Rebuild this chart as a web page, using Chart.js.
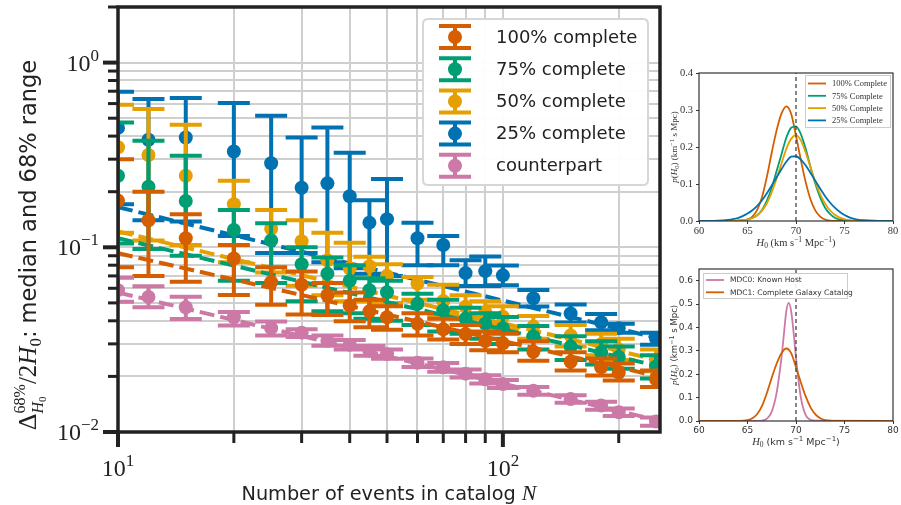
<!DOCTYPE html>
<html>
<head>
<meta charset="utf-8">
<script src="https://cdn.jsdelivr.net/npm/chart.js@4.4.1/dist/chart.umd.min.js"></script>
<style>
  body { margin: 0; background: #fff; }
  #wrap { position: relative; width: 901px; height: 505px; overflow: hidden; }
  canvas { position: absolute; }
  #main { left: 0; top: 0; }
  #inset1 { left: 660px; top: 55px; }
  #inset2 { left: 660px; top: 250px; }
</style>
</head>
<body>
<div id="wrap">
  <canvas id="main" width="670" height="505"></canvas>
  <canvas id="inset1" width="241" height="200"></canvas>
  <canvas id="inset2" width="241" height="205"></canvas>
</div>
<script>
// ---- main panel data: median and 68% range vs number of events ----
const nEvents = [10, 12, 15, 20, 25, 30, 35, 40, 45, 50, 60, 70, 80, 90, 100, 120, 150, 180, 200, 250];

const med100 = [0.179, 0.140, 0.112, 0.087, 0.0648, 0.0627, 0.0552, 0.0484, 0.045, 0.0418, 0.0385, 0.036, 0.0339, 0.0311, 0.0302, 0.0272, 0.0240, 0.0224, 0.0210, 0.0193];
const hi100 = [0.300, 0.200, 0.151, 0.103, 0.078, 0.074, 0.064, 0.057, 0.052, 0.048, 0.044, 0.041, 0.038, 0.035, 0.034, 0.031, 0.027, 0.025, 0.0235, 0.0215];
const lo100 = [0.078, 0.070, 0.065, 0.0552, 0.0488, 0.0433, 0.043, 0.0398, 0.0369, 0.0358, 0.0333, 0.0317, 0.030, 0.0277, 0.027, 0.0243, 0.0215, 0.0202, 0.019, 0.0175];

const med75 = [0.244, 0.213, 0.178, 0.124, 0.109, 0.081, 0.072, 0.066, 0.0586, 0.0571, 0.0494, 0.0455, 0.0411, 0.0386, 0.0365, 0.0329, 0.0290, 0.0270, 0.0255, 0.0226];
const hi75 = [0.474, 0.377, 0.313, 0.159, 0.135, 0.100, 0.088, 0.080, 0.068, 0.066, 0.056, 0.052, 0.047, 0.044, 0.042, 0.0375, 0.033, 0.031, 0.029, 0.026];
const lo75 = [0.105, 0.098, 0.090, 0.066, 0.064, 0.051, 0.045, 0.044, 0.041, 0.040, 0.038, 0.035, 0.034, 0.032, 0.030, 0.028, 0.0245, 0.0232, 0.022, 0.0195];

const med50 = [0.348, 0.316, 0.244, 0.171, 0.126, 0.108, 0.085, 0.077, 0.079, 0.070, 0.0636, 0.0512, 0.0477, 0.0446, 0.0421, 0.0372, 0.0333, 0.0299, 0.0280, 0.0244];
const hi50 = [0.591, 0.560, 0.461, 0.229, 0.159, 0.140, 0.120, 0.106, 0.089, 0.081, 0.069, 0.0627, 0.055, 0.051, 0.048, 0.0425, 0.038, 0.034, 0.032, 0.028];
const lo50 = [0.120, 0.109, 0.103, 0.083, 0.073, 0.062, 0.055, 0.051, 0.051, 0.050, 0.052, 0.043, 0.041, 0.038, 0.036, 0.032, 0.029, 0.026, 0.0245, 0.0213];

const med25 = [0.443, 0.382, 0.393, 0.330, 0.285, 0.210, 0.222, 0.189, 0.136, 0.142, 0.112, 0.103, 0.0725, 0.0743, 0.0705, 0.053, 0.0438, 0.0393, 0.0365, 0.032];
const hi25 = [0.695, 0.635, 0.643, 0.604, 0.515, 0.393, 0.445, 0.325, 0.180, 0.234, 0.136, 0.115, 0.085, 0.0893, 0.0798, 0.0588, 0.049, 0.0435, 0.0386, 0.0345];
const lo25 = [0.171, 0.140, 0.138, 0.115, 0.093, 0.093, 0.083, 0.077, 0.072, 0.070, 0.080, 0.080, 0.0618, 0.0618, 0.0623, 0.0478, 0.0392, 0.0355, 0.0345, 0.0297];

const medCp = [0.0586, 0.0539, 0.0474, 0.0418, 0.0365, 0.0345, 0.0312, 0.0297, 0.0275, 0.0264, 0.0237, 0.0224, 0.0207, 0.0193, 0.0182, 0.0167, 0.0151, 0.0139, 0.0128, 0.0114];
const hiCp = [0.0684, 0.0615, 0.054, 0.0447, 0.0397, 0.0360, 0.0333, 0.0315, 0.0292, 0.0280, 0.0250, 0.0236, 0.0218, 0.0203, 0.0191, 0.0175, 0.0158, 0.0146, 0.0134, 0.0120];
const loCp = [0.0508, 0.0474, 0.0409, 0.0377, 0.0333, 0.0327, 0.0293, 0.0280, 0.0259, 0.0249, 0.0225, 0.0212, 0.0197, 0.0183, 0.0173, 0.0159, 0.0144, 0.0132, 0.0122, 0.0108];

// dashed power-law fits, read at the two ends of the axis
const fitN = [10, 256];
const fit100 = [0.093, 0.0199];
const fit75 = [0.112, 0.0226];
const fit50 = [0.122, 0.0243];
const fit25 = [0.165, 0.032];
const fitCp = [0.0569, 0.0115];

const xTicks = [10, 20, 30, 40, 50, 60, 70, 80, 90, 100, 200];
const yTicks = [0.01, 0.02, 0.03, 0.04, 0.05, 0.06, 0.07, 0.08, 0.09, 0.1, 0.2, 0.3, 0.4, 0.5, 0.6, 0.7, 0.8, 0.9, 1, 2];

// ---- inset data: H0 posteriors ----
const h0Grid = [60, 62, 63, 63.5, 64, 64.5, 65, 65.5, 66, 66.5, 67, 67.5, 68, 68.5, 69, 69.5, 70, 70.5, 71, 71.5, 72, 72.5, 73, 73.5, 74, 74.5, 75, 75.5, 76, 76.5, 77, 78, 80];
const post100 = [0, 0, 0, 0, 0, 0.001, 0.004, 0.012, 0.03, 0.065, 0.12, 0.185, 0.245, 0.29, 0.31, 0.29, 0.23, 0.165, 0.105, 0.058, 0.028, 0.012, 0.004, 0.001, 0, 0, 0, 0, 0, 0, 0, 0, 0];
const post75 = [0, 0, 0, 0, 0.001, 0.002, 0.004, 0.008, 0.016, 0.03, 0.055, 0.09, 0.135, 0.18, 0.225, 0.252, 0.256, 0.235, 0.195, 0.145, 0.1, 0.063, 0.036, 0.019, 0.009, 0.004, 0.002, 0.001, 0, 0, 0, 0, 0];
const post50 = [0, 0, 0, 0, 0.001, 0.002, 0.004, 0.008, 0.015, 0.028, 0.048, 0.078, 0.115, 0.155, 0.195, 0.222, 0.232, 0.218, 0.185, 0.145, 0.105, 0.072, 0.047, 0.029, 0.017, 0.009, 0.005, 0.002, 0.001, 0, 0, 0, 0];
const post25 = [0, 0.001, 0.003, 0.005, 0.008, 0.013, 0.02, 0.029, 0.041, 0.056, 0.075, 0.096, 0.118, 0.14, 0.16, 0.174, 0.175, 0.166, 0.15, 0.13, 0.108, 0.087, 0.067, 0.05, 0.036, 0.025, 0.016, 0.01, 0.006, 0.003, 0.002, 0.001, 0];
const hostGrid = [60, 66, 66.5, 67, 67.5, 68, 68.5, 68.75, 69, 69.25, 69.5, 69.75, 70, 70.5, 71, 71.5, 72, 80];
const postHost = [0, 0, 0.002, 0.01, 0.04, 0.12, 0.27, 0.37, 0.47, 0.505, 0.47, 0.38, 0.27, 0.1, 0.025, 0.005, 0.001, 0];
const h0True = 70;

const C100 = '#D55E00', C75 = '#009E73', C50 = '#E69F00', C25 = '#0072B2', CCP = '#CC79A7';
const SERIF = "'Liberation Serif', 'DejaVu Serif', serif";
const SANS = "'DejaVu Sans', sans-serif";
const fnt = (size, fam, style) => (style ? style + ' ' : '') + size + 'px ' + fam;

// text made of runs (for sub/superscripts)
function runWidth(ctx, r) {
    if (r.stack) return Math.max(...r.stack.map(s => s.reduce((w, q) => w + runWidth(ctx, q), 0)));
    ctx.font = r.f;
    return ctx.measureText(r.t).width;
}
function totalWidth(ctx, runs) {
    return runs.reduce((w, r) => w + runWidth(ctx, r), 0);
}
function drawRuns(ctx, runs, x, y) {
    let cx = x;
    runs.forEach(r => {
        if (r.stack) r.stack.forEach(s => drawRuns(ctx, s, cx, y));
        else { ctx.font = r.f; ctx.fillText(r.t, cx, y + (r.dy || 0)); }
        cx += runWidth(ctx, r);
    });
}
function powRuns(exp) {
    const e = exp < 0 ? '\u2212' + (-exp) : String(exp);
    return [{ t: '10', f: fnt(24, SERIF) }, { t: e, f: fnt(17, SERIF), dy: -10 }];
}

// ---- main chart ----
const mainSeries = [
    { label: '100% complete', color: C100, med: med100, lo: lo100, hi: hi100, fit: fit100 },
    { label: '75% complete', color: C75, med: med75, lo: lo75, hi: hi75, fit: fit75 },
    { label: '50% complete', color: C50, med: med50, lo: lo50, hi: hi50, fit: fit50 },
    { label: '25% complete', color: C25, med: med25, lo: lo25, hi: hi25, fit: fit25 },
    { label: 'counterpart', color: CCP, med: medCp, lo: loCp, hi: hiCp, fit: fitCp }
];

// first dataset is drawn on top in Chart.js
const mainDatasets = [];
[4, 0, 1, 2, 3].forEach(k => {
    const s = mainSeries[k];
    mainDatasets.push({
        data: fitN.map((n, i) => ({ x: n, y: s.fit[i] })),
        borderColor: s.color, borderWidth: 4, borderDash: [15, 6],
        pointRadius: 0, fill: false
    });
    mainDatasets.push({
        label: s.label,
        data: nEvents.map((n, i) => ({ x: n, y: s.med[i] })),
        lo: s.lo, hi: s.hi,
        showLine: false, pointRadius: 7, pointBorderWidth: 0,
        pointBackgroundColor: s.color, backgroundColor: s.color, borderColor: s.color
    });
});

const errorBars = {
    id: 'errorBars',
    beforeDatasetDraw(chart, args) {
        const ds = chart.data.datasets[args.index];
        if (!ds.lo) return;
        const { ctx, chartArea: a, scales: { x, y } } = chart;
        ctx.save();
        ctx.beginPath();
        ctx.rect(a.left, a.top, a.right - a.left, a.bottom - a.top);
        ctx.clip();
        ctx.strokeStyle = ds.backgroundColor;
        ctx.lineWidth = 4;
        ds.data.forEach((p, i) => {
            const px = x.getPixelForValue(p.x);
            const yl = y.getPixelForValue(ds.lo[i]);
            const yh = y.getPixelForValue(ds.hi[i]);
            ctx.beginPath();
            ctx.moveTo(px, yl); ctx.lineTo(px, yh);
            ctx.moveTo(px - 16, yl); ctx.lineTo(px + 16, yl);
            ctx.moveTo(px - 16, yh); ctx.lineTo(px + 16, yh);
            ctx.stroke();
        });
        ctx.restore();
    }
};

const isDecade = v => Math.abs(Math.log10(v) - Math.round(Math.log10(v))) < 1e-9;

const mainDecor = {
    id: 'mainDecor',
    afterDraw(chart) {
        const { ctx, chartArea: a, scales: { x, y } } = chart;
        ctx.save();
        ctx.strokeStyle = '#222';
        ctx.fillStyle = '#222';
        ctx.textBaseline = 'alphabetic';

        // tick marks
        yTicks.forEach(v => {
            const py = y.getPixelForValue(v);
            const major = isDecade(v);
            ctx.lineWidth = major ? 4 : 3;
            ctx.beginPath();
            ctx.moveTo(a.left - (major ? 15 : 10), py); ctx.lineTo(a.left, py);
            ctx.stroke();
            if (major) {
                const runs = powRuns(Math.round(Math.log10(v)));
                drawRuns(ctx, runs, a.left - 19 - totalWidth(ctx, runs), py + 8);
            }
        });
        xTicks.forEach(v => {
            const px = x.getPixelForValue(v);
            const major = isDecade(v);
            ctx.lineWidth = major ? 4 : 3;
            ctx.beginPath();
            ctx.moveTo(px, a.bottom); ctx.lineTo(px, a.bottom + (major ? 15 : 11));
            ctx.stroke();
            if (major) {
                const runs = powRuns(Math.round(Math.log10(v)));
                drawRuns(ctx, runs, px - totalWidth(ctx, runs) / 2, a.bottom + 44);
            }
        });

        // frame
        ctx.lineWidth = 3.5;
        ctx.strokeRect(a.left, a.top, a.right - a.left, a.bottom - a.top);

        // axis titles
        const xt = [{ t: 'Number of events in catalog ', f: fnt(19.3, SANS) }, { t: 'N', f: fnt(22, SERIF, 'italic') }];
        drawRuns(ctx, xt, (a.left + a.right) / 2 - totalWidth(ctx, xt) / 2, 500);

        const yt = [
            { t: '\u0394', f: fnt(26, SERIF) },
            { stack: [[{ t: '68%', f: fnt(16, SERIF), dy: -11 }],
                      [{ t: 'H', f: fnt(16, SERIF, 'italic'), dy: 7 }, { t: '0', f: fnt(11, SERIF), dy: 10 }]] },
            { t: '/2', f: fnt(25, SERIF) },
            { t: 'H', f: fnt(25, SERIF, 'italic') },
            { t: '0', f: fnt(17, SERIF), dy: 5 },
            { t: ': median and 68% range', f: fnt(22.5, SANS) }
        ];
        ctx.save();
        ctx.translate(36, 245);
        ctx.rotate(-Math.PI / 2);
        drawRuns(ctx, yt, -totalWidth(ctx, yt) / 2, 0);
        ctx.restore();

        // legend
        const bx = 423, by = 19, bw = 225, bh = 166, r = 5;
        ctx.beginPath();
        ctx.moveTo(bx + r, by); ctx.lineTo(bx + bw - r, by); ctx.quadraticCurveTo(bx + bw, by, bx + bw, by + r);
        ctx.lineTo(bx + bw, by + bh - r); ctx.quadraticCurveTo(bx + bw, by + bh, bx + bw - r, by + bh);
        ctx.lineTo(bx + r, by + bh); ctx.quadraticCurveTo(bx, by + bh, bx, by + bh - r);
        ctx.lineTo(bx, by + r); ctx.quadraticCurveTo(bx, by, bx + r, by);
        ctx.closePath();
        ctx.fillStyle = 'rgba(255,255,255,0.95)';
        ctx.fill();
        ctx.strokeStyle = '#d6d6d6';
        ctx.lineWidth = 2;
        ctx.stroke();

        mainSeries.forEach((s, i) => {
            const cy = 37 + i * 32.2;
            ctx.strokeStyle = s.color; ctx.fillStyle = s.color; ctx.lineWidth = 4;
            ctx.beginPath();
            ctx.moveTo(455, cy - 11); ctx.lineTo(455, cy + 11);
            ctx.moveTo(439, cy - 11); ctx.lineTo(471, cy - 11);
            ctx.moveTo(439, cy + 11); ctx.lineTo(471, cy + 11);
            ctx.stroke();
            ctx.beginPath(); ctx.arc(455, cy, 7, 0, Math.PI * 2); ctx.fill();
            ctx.fillStyle = '#222';
            ctx.font = fnt(18, SANS);
            ctx.textBaseline = 'middle';
            ctx.fillText(s.label, 496, cy + 1);
            ctx.textBaseline = 'alphabetic';
        });
        ctx.restore();
    }
};

new Chart(document.getElementById('main'), {
    type: 'line',
    data: { datasets: mainDatasets },
    options: {
        responsive: false, animation: false, devicePixelRatio: 1,
        layout: { padding: { top: 7, right: 10, left: 0, bottom: 0 } },
        plugins: { legend: { display: false }, tooltip: { enabled: false } },
        scales: {
            x: {
                type: 'logarithmic', min: 10, max: 256,
                afterBuildTicks: s => { s.ticks = xTicks.map(v => ({ value: v })); },
                afterFit: s => { s.height = 73; },
                ticks: { display: false },
                grid: { color: '#cfcfcf', lineWidth: 2, drawTicks: false },
                border: { display: false }
            },
            y: {
                type: 'logarithmic', min: 0.01, max: 2,
                afterBuildTicks: s => { s.ticks = yTicks.map(v => ({ value: v })); },
                afterFit: s => { s.width = 118; },
                ticks: { display: false },
                grid: { color: '#cfcfcf', lineWidth: 2, drawTicks: false },
                border: { display: false }
            }
        }
    },
    plugins: [errorBars, mainDecor]
});

// ---- insets ----
function insetDecor(cfg) {
    return {
        id: 'insetDecor',
        afterDraw(chart) {
            const { ctx, chartArea: a } = chart;
            ctx.save();
            ctx.strokeStyle = '#333';
            ctx.lineWidth = 1.2;
            ctx.strokeRect(a.left, a.top, a.right - a.left, a.bottom - a.top);
            ctx.fillStyle = '#333';
            ctx.textBaseline = 'alphabetic';
            drawRuns(ctx, cfg.xTitle, (a.left + a.right) / 2 - totalWidth(ctx, cfg.xTitle) / 2, cfg.xTitleY);
            ctx.save();
            ctx.translate(cfg.yTitleX, (a.top + a.bottom) / 2);
            ctx.rotate(-Math.PI / 2);
            drawRuns(ctx, cfg.yTitle, -totalWidth(ctx, cfg.yTitle) / 2, 0);
            ctx.restore();

            const L = cfg.legend;
            ctx.fillStyle = 'rgba(255,255,255,0.9)';
            ctx.fillRect(L.x, L.y, L.w, L.h);
            ctx.strokeStyle = '#cccccc';
            ctx.lineWidth = 1;
            ctx.strokeRect(L.x + 0.5, L.y + 0.5, L.w, L.h);
            L.items.forEach((it, i) => {
                const cy = L.y0 + i * L.step;
                ctx.strokeStyle = it.color; ctx.lineWidth = 1.8;
                ctx.beginPath(); ctx.moveTo(L.x + 3, cy); ctx.lineTo(L.x + 21, cy); ctx.stroke();
                ctx.fillStyle = '#333';
                ctx.font = L.font;
                ctx.textBaseline = 'middle';
                ctx.fillText(it.label, L.x + 27, cy + 0.5);
            });
            ctx.restore();
        }
    };
}

function curve(xs, ys, color) {
    return {
        data: xs.map((v, i) => ({ x: v, y: ys[i] })),
        borderColor: color, borderWidth: 1.8, pointRadius: 0,
        cubicInterpolationMode: 'monotone', fill: false
    };
}
function truthLine(ymax) {
    return {
        data: [{ x: h0True, y: 0 }, { x: h0True, y: ymax }],
        borderColor: '#444', borderWidth: 1.3, borderDash: [4, 3], pointRadius: 0
    };
}
function insetScales(ymax, fam, size, xh) {
    const tick = { color: '#333', font: { family: fam, size: size }, maxRotation: 0, autoSkip: false };
    const grid = { display: true, drawOnChartArea: false, drawTicks: true, tickLength: 3, color: '#333', tickWidth: 1 };
    return {
        x: {
            type: 'linear', min: 60, max: 80,
            ticks: Object.assign({ stepSize: 5, padding: 1 }, tick),
            grid: grid, border: { display: false },
            afterFit: s => { s.height = xh; }
        },
        y: {
            type: 'linear', min: 0, max: ymax,
            ticks: Object.assign({ stepSize: 0.1, padding: 3, includeBounds: false, callback: v => v.toFixed(1) }, tick),
            grid: grid, border: { display: false },
            afterFit: s => { s.width = 39; }
        }
    };
}

const serifUnits = sz => [
    { t: 'H', f: fnt(sz, SERIF, 'italic') }, { t: '0', f: fnt(sz - 3, SERIF), dy: 2 },
    { t: ' (km s', f: fnt(sz, SERIF) }, { t: '\u22121', f: fnt(sz - 3, SERIF), dy: -4 },
    { t: ' Mpc', f: fnt(sz, SERIF) }, { t: '\u22121', f: fnt(sz - 3, SERIF), dy: -4 },
    { t: ')', f: fnt(sz, SERIF) }
];

new Chart(document.getElementById('inset1'), {
    type: 'line',
    data: {
        datasets: [
            truthLine(0.4),
            curve(h0Grid, post25, C25),
            curve(h0Grid, post50, C50),
            curve(h0Grid, post75, C75),
            curve(h0Grid, post100, C100)
        ]
    },
    options: {
        responsive: false, animation: false, devicePixelRatio: 1,
        layout: { padding: { top: 18, right: 8, left: 0, bottom: 0 } },
        plugins: { legend: { display: false }, tooltip: { enabled: false } },
        scales: insetScales(0.4, SERIF, 10.5, 34)
    },
    plugins: [insetDecor({
        xTitle: serifUnits(10.5), xTitleY: 191,
        yTitle: [
            { t: 'p', f: fnt(9, SERIF, 'italic') }, { t: '(', f: fnt(9, SERIF) },
            { t: 'H', f: fnt(9, SERIF, 'italic') }, { t: '0', f: fnt(6.5, SERIF), dy: 2 },
            { t: ') (km', f: fnt(9, SERIF) }, { t: '\u22121', f: fnt(6.5, SERIF), dy: -3.5 },
            { t: ' s Mpc)', f: fnt(9, SERIF) }
        ],
        yTitleX: 17,
        legend: {
            x: 145, y: 20, w: 85, h: 52, y0: 28.5, step: 12.3, font: fnt(8.5, SERIF),
            items: [
                { label: '100% Complete', color: C100 },
                { label: '75% Complete', color: C75 },
                { label: '50% Complete', color: C50 },
                { label: '25% Complete', color: C25 }
            ]
        }
    })]
});

new Chart(document.getElementById('inset2'), {
    type: 'line',
    data: {
        datasets: [
            truthLine(0.65),
            curve(h0Grid, post100, C100),
            curve(hostGrid, postHost, CCP)
        ]
    },
    options: {
        responsive: false, animation: false, devicePixelRatio: 1,
        layout: { padding: { top: 19, right: 8, left: 0, bottom: 0 } },
        plugins: { legend: { display: false }, tooltip: { enabled: false } },
        scales: insetScales(0.65, SANS, 9, 34)
    },
    plugins: [insetDecor({
        xTitle: [
            { t: 'H', f: fnt(10.5, SERIF, 'italic') }, { t: '0', f: fnt(7.5, SERIF), dy: 2 },
            { t: ' (km s', f: fnt(9.5, SANS) }, { t: '\u22121', f: fnt(7, SANS), dy: -4 },
            { t: ' Mpc', f: fnt(9.5, SANS) }, { t: '\u22121', f: fnt(7, SANS), dy: -4 },
            { t: ')', f: fnt(9.5, SANS) }
        ],
        xTitleY: 195,
        yTitle: [
            { t: 'p', f: fnt(9, SERIF, 'italic') }, { t: '(', f: fnt(8.5, SANS) },
            { t: 'H', f: fnt(9, SERIF, 'italic') }, { t: '0', f: fnt(6.5, SERIF), dy: 2 },
            { t: ') (km', f: fnt(8.5, SANS) }, { t: '\u22121', f: fnt(6.5, SANS), dy: -3.5 },
            { t: ' s Mpc)', f: fnt(8.5, SANS) }
        ],
        yTitleX: 17,
        legend: {
            x: 43, y: 23, w: 144, h: 25, y0: 30, step: 12.3, font: fnt(7.5, SANS),
            items: [
                { label: 'MDC0: Known Host', color: CCP },
                { label: 'MDC1: Complete Galaxy Catalog', color: C100 }
            ]
        }
    })]
});
</script>
</body>
</html>
